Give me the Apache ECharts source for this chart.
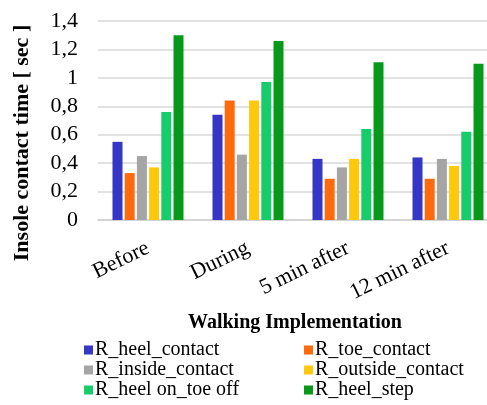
<!DOCTYPE html>
<html><head><meta charset="utf-8">
<script src="https://cdn.jsdelivr.net/npm/echarts@6/dist/echarts.min.js"></script>
<style>html,body{margin:0;padding:0;background:#fff;overflow:hidden;width:487px;height:405px}#c{width:498px;height:405px}</style>
</head><body><div id="c"></div>
<script>
const categories = ['Before', 'During', '5 min after', '12 min after'];
const seriesNames = ['R_heel_contact', 'R_toe_contact', 'R_inside_contact', 'R_outside_contact', 'R_heel on_toe off', 'R_heel_step'];
const heelContact = [0.55, 0.74, 0.43, 0.44];
const toeContact = [0.33, 0.84, 0.29, 0.29];
const insideContact = [0.45, 0.46, 0.37, 0.43];
const outsideContact = [0.37, 0.84, 0.43, 0.38];
const heelOnToeOff = [0.76, 0.97, 0.64, 0.62];
const heelStep = [1.30, 1.26, 1.11, 1.10];
const yTicks = [0, 0.2, 0.4, 0.6, 0.8, 1, 1.2, 1.4];
const colors = ['#3535c6', '#ff6a0d', '#a5a5a5', '#ffc80a', '#17cc6a', '#06991a'];
const values = [heelContact, toeContact, insideContact, outsideContact, heelOnToeOff, heelStep];

const font = '"Liberation Serif", "DejaVu Serif", serif';
const chart = echarts.init(document.getElementById('c'));
const legendText = {fontFamily: font, fontSize: 20, color: '#000', lineHeight: 20, padding: [0, 0, 0, -3]};
chart.setOption({
  animation: false,
  color: colors,
  grid: {left: 98, right: 0, top: 21, bottom: 185, containLabel: false},
  xAxis: {
    type: 'category', data: categories,
    axisLine: {lineStyle: {color: '#d0d0d0', width: 1.5}},
    axisTick: {show: false},
    axisLabel: {rotate: 26, margin: 27, fontFamily: font, fontSize: 22, color: '#000', interval: 0}
  },
  yAxis: {
    type: 'value', min: yTicks[0], max: yTicks[yTicks.length - 1], interval: 0.2,
    axisLine: {show: false}, axisTick: {show: false},
    splitLine: {lineStyle: {color: '#d9d9d9', width: 1.5}},
    axisLabel: {margin: 20, fontFamily: font, fontSize: 22, color: '#000',
      formatter: v => String(Math.round(v * 10) / 10).replace('.', ',')}
  },
  legend: [
    {orient: 'vertical', left: 84, top: 340, height: 80, itemWidth: 9, itemHeight: 9, itemGap: 0,
     icon: 'rect', textStyle: legendText, padding: 0,
     data: [seriesNames[0], seriesNames[2], seriesNames[4]]},
    {orient: 'vertical', left: 304, top: 340, height: 80, itemWidth: 9, itemHeight: 9, itemGap: 0,
     icon: 'rect', textStyle: legendText, padding: 0,
     data: [seriesNames[1], seriesNames[3], seriesNames[5]]}
  ],
  graphic: [
    {type: 'text', x: 22, y: 143, rotation: Math.PI / 2,
     style: {text: 'Insole contact time [ sec ]', font: 'bold 22px ' + font, fill: '#000', align: 'center', verticalAlign: 'middle'}},
    {type: 'text', x: 295, y: 323,
     style: {text: 'Walking Implementation', font: 'bold 20px ' + font, fill: '#000', align: 'center', verticalAlign: 'middle'}}
  ],
  series: seriesNames.map((n, i) => ({
    name: n, type: 'bar', data: values[i], barWidth: 10, barGap: '22%'
  }))
});
</script></body></html>
